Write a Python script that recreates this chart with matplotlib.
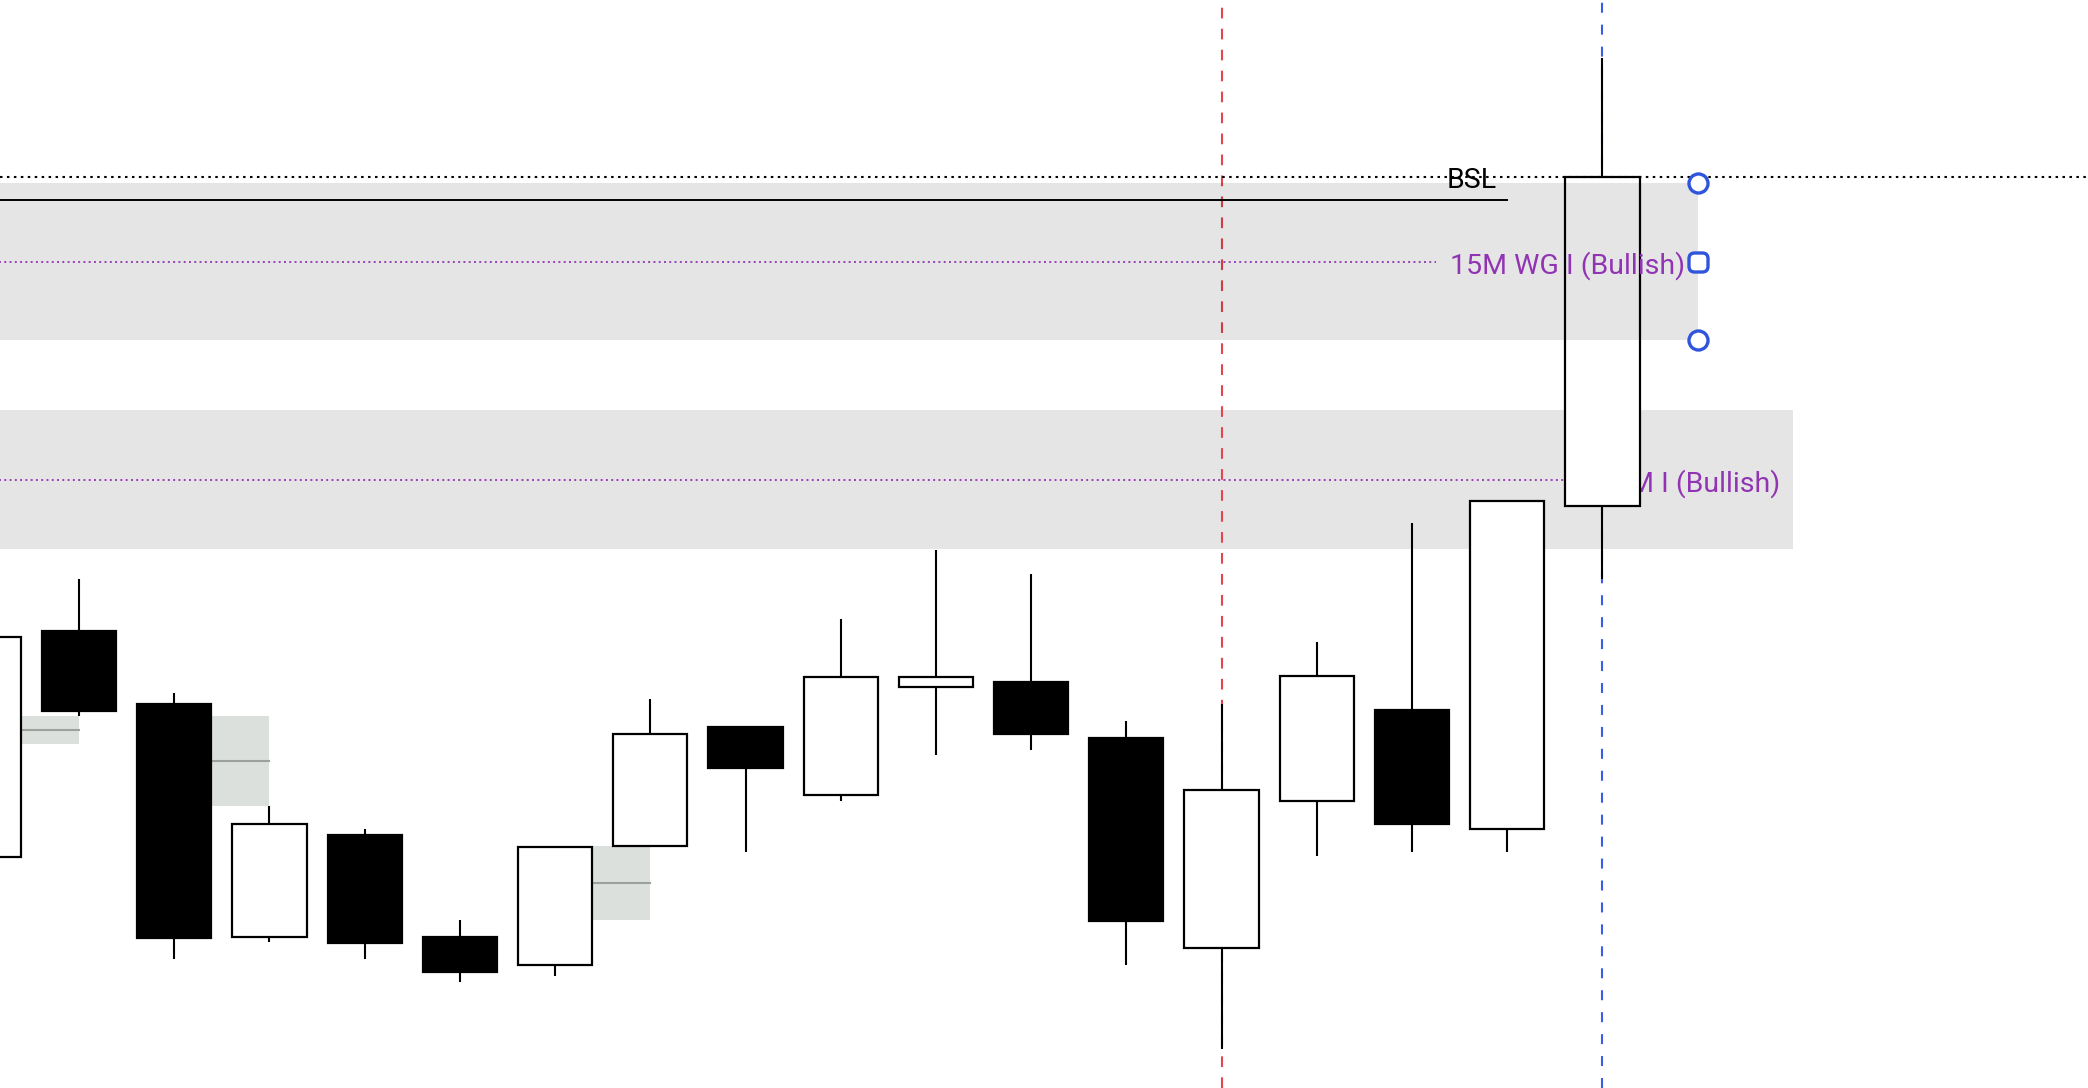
import matplotlib
matplotlib.use('Agg')
import matplotlib.pyplot as plt
import numpy as np
from matplotlib.patches import FancyBboxPatch

plt.rcParams['font.family'] = ['Roboto', 'DejaVu Sans']
plt.rcParams['lines.scale_dashes'] = False

# ---------------- data ----------------
opens  = [21057.75, 21114.25, 21096.00, 21037.75, 21063.25, 21037.75, 21030.75, 21060.50, 21090.25,
          21073.25, 21100.25, 21101.50, 21087.50, 21035.00, 21071.75, 21094.50, 21064.75, 21145.50]
highs  = [21112.75, 21127.25, 21098.75, 21070.50, 21064.75, 21042.00, 21060.25, 21097.25, 21090.25,
          21117.25, 21134.50, 21128.50, 21091.75, 21096.00, 21111.50, 21141.25, 21146.75, 21257.50]
lows   = [21057.75, 21093.00, 21032.25, 21036.50, 21032.25, 21026.50, 21028.00, 21060.50, 21059.00,
          21071.75, 21083.25, 21084.50, 21030.75, 21009.75, 21058.00, 21059.00, 21059.00, 21127.25]
closes = [21112.75, 21094.25, 21037.50, 21066.00, 21036.25, 21029.00, 21060.25, 21088.50, 21080.00,
          21102.75, 21102.75, 21088.50, 21041.75, 21074.50, 21103.00, 21066.00, 21146.75, 21227.75]

# small gaps (start bar, top, bottom)
gap_start = [0, 2, 6]
gap_top = [21093.00, 21093.00, 21060.50]
gap_bottom = [21086.00, 21070.50, 21042.00]

# higher-timeframe zones
zone_labels = ["15M WG I (Bullish)", "15M I (Bullish)"]
zone_top = [21226.25, 21169.50]
zone_bottom = [21187.00, 21134.75]
zone_end = [18, 19]

bsl_level = 21227.75
bsl_line_level = 21222.00
bsl_line_end = 16
red_bar = 13
blue_bar = 17

# ---------------- figure ----------------
fig = plt.figure(figsize=(20.88, 10.88), dpi=100)
ax = fig.add_axes([0, 0, 1, 1])
xmin, xmax = 0.17, 22.1
ax.set_xlim(xmin, xmax)
ax.set_ylim(21000, 21272)
ax.axis('off')

x = np.arange(len(opens))
o = np.array(opens); c = np.array(closes)
h = np.array(highs); l = np.array(lows)
up = c >= o

purple = '#9134b3'

# lower zone (behind candles) and upper zone (in front, translucent)
zone_z = [6, 1]
texts = []
for k in range(2):
    ax.fill_between([xmin - 1, zone_end[k]], zone_bottom[k], zone_top[k],
                    color='black', alpha=0.1, lw=0, zorder=zone_z[k])
    mid = (zone_top[k] + zone_bottom[k]) / 2
    t = ax.text(zone_end[k] - 0.13, mid - 3.0, zone_labels[k], color=purple,
                fontsize=20.5, ha='right', va='baseline', zorder=zone_z[k] + 1)
    texts.append((t, mid))

fig.canvas.draw()
inv = ax.transData.inverted()
for k, (t, mid) in enumerate(texts):
    bb = t.get_window_extent()
    x0 = inv.transform((bb.x0, 0))[0]
    ax.plot([xmin - 1, x0 - 0.15], [mid, mid], color=purple, lw=1.3,
            linestyle=(0, (1.4, 2.4)), zorder=zone_z[k] + 1, solid_capstyle='butt')

# small gaps
for s, tp, bt in zip(gap_start, gap_top, gap_bottom):
    ax.fill_between([s + 0.4, s + 1.0], bt, tp, color='#dce0dc', lw=0, zorder=1.5)
    ax.plot([s + 0.4, s + 1.0], [(tp + bt) / 2] * 2, color='#9ca19c', lw=1.5, zorder=1.6)

# vertical dashed markers
ax.axvline(red_bar, color='#e5454f', lw=1.5, linestyle=(0, (7.7, 7.4)), zorder=2)
ax.axvline(blue_bar, color='#3a5de8', lw=1.5, linestyle=(0, (7.2, 8.6)), zorder=2)

# candles
ax.vlines(x, l, h, color='black', lw=1.5, zorder=3)
ax.bar(x, np.abs(c - o), bottom=np.minimum(o, c), width=0.78,
       color=np.where(up, 'white', 'black'), edgecolor='black', linewidth=1.6, zorder=4)

# BSL
ax.axhline(bsl_level, color='black', lw=1.5, linestyle=(0, (1.8, 3.2)), zorder=8)
ax.plot([xmin - 1, bsl_line_end], [bsl_line_level] * 2, color='black', lw=1.4, zorder=8)
ax.text(bsl_line_end - 0.105, bsl_level - 2.75, "BSL", color='black', fontsize=20.5,
        ha='right', va='baseline', zorder=9)

# zone handles
rsq = FancyBboxPatch((-0.5, -0.5), 1, 1, boxstyle='round,pad=0,rounding_size=0.3').get_path()
blue = '#2f55dc'
k = 0
ax.plot([zone_end[k]] * 2, [zone_top[k], zone_bottom[k]], linestyle='none', marker='o',
        ms=13.7, mew=2.4, mec=blue, mfc='white', zorder=10)
ax.plot([zone_end[k]], [(zone_top[k] + zone_bottom[k]) / 2], linestyle='none', marker=rsq,
        ms=13.7, mew=2.4, mec=blue, mfc='white', zorder=10)

fig.savefig('out.png', dpi=100)
